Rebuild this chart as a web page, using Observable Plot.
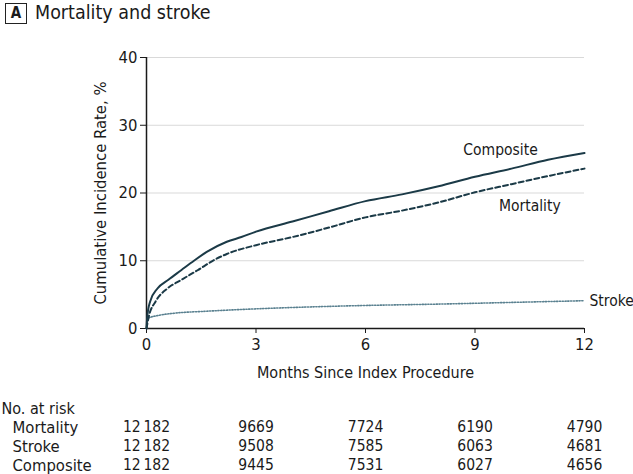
<!DOCTYPE html>
<html><head><meta charset="utf-8">
<script src="https://cdn.jsdelivr.net/npm/d3@7"></script>
<script src="https://cdn.jsdelivr.net/npm/@observablehq/plot@0.6"></script>
<style>
body{margin:0;background:#fff;font-family:"DejaVu Sans Condensed","Liberation Sans Narrow","DejaVu Sans",sans-serif;color:#1a1a1a;}
#title{height:30px;position:relative;}
#title .box{position:absolute;left:5px;top:3px;width:20px;height:19px;border:1.6px solid #222;font-size:15px;line-height:19px;text-align:center;font-weight:bold;}
#title .txt{position:absolute;left:35px;top:1px;font-size:19.5px;line-height:23px;}
svg{display:block;}
</style>
</head><body>
<div id="title"><div class="box">A</div><div class="txt">Mortality and stroke</div></div>
<div id="chart"></div>
<div id="risk"></div>
<script>
// ---- data ----
const compositeMonths = [0, 0.02, 0.1, 0.3, 0.6, 0.95, 1.3, 1.65, 2.2, 2.6, 3.0, 4.0, 5.0, 6.0, 7.0, 8.0, 9.0, 10.0, 11.0, 12.0];
const compositeRate   = [0, 1.7, 4.0, 5.9, 7.2, 8.6, 10.0, 11.3, 12.8, 13.5, 14.3, 15.8, 17.3, 18.8, 19.8, 21.0, 22.4, 23.6, 24.9, 25.9];
const mortalityMonths = [0, 0.06, 0.25, 0.57, 0.93, 1.4, 1.85, 2.2, 3.0, 4.0, 5.0, 6.0, 7.0, 8.0, 9.0, 10.0, 11.0, 12.0];
const mortalityRate   = [0, 1.7, 4.0, 5.9, 7.1, 8.6, 10.1, 11.0, 12.3, 13.5, 14.9, 16.4, 17.4, 18.6, 20.1, 21.3, 22.5, 23.6];
const strokeMonths = [0, 0.03, 0.3, 0.75, 1.65, 3, 4, 6, 8, 10, 12];
const strokeRate   = [0, 1.5, 1.9, 2.25, 2.55, 2.9, 3.1, 3.4, 3.6, 3.85, 4.1];

const xTicks = [0, 3, 6, 9, 12];
const yTicks = [0, 10, 20, 30, 40];
const xLabel = "Months Since Index Procedure";
const yLabel = "Cumulative Incidence Rate, %";

// curve annotation labels (month, rate)
const curveLabels = ["Composite", "Mortality", "Stroke"];
const curveLabelMonth = [9.7, 10.5, 12];
const curveLabelRate = [26.3, 18.1, 4.1];

// number at risk table
const riskTimes = [0, 3, 6, 9, 12];
const riskRows = ["Mortality", "Stroke", "Composite"];
const riskMortality = [12182, 9669, 7724, 6190, 4790];
const riskStroke    = [12182, 9508, 7585, 6063, 4681];
const riskComposite = [12182, 9445, 7531, 6027, 4656];

// ---- build tables ----
const toRows = (ms, rs) => ms.map((m, i) => ({month: m, rate: rs[i]}));
const composite = toRows(compositeMonths, compositeRate);
const mortality = toRows(mortalityMonths, mortalityRate);
const stroke = toRows(strokeMonths, strokeRate);
const labels = curveLabels.map((t, i) => ({text: t, month: curveLabelMonth[i], rate: curveLabelRate[i]}));

const FONT = '"DejaVu Sans Condensed","Liberation Sans Narrow","DejaVu Sans",sans-serif';
const INK = "#1b3a47";
const TXT = "#1a1a1a";

const chart = Plot.plot({
  width: 633, height: 370,
  marginTop: 27, marginBottom: 72, marginLeft: 146, marginRight: 49,
  style: {fontFamily: FONT, fontSize: "15px", color: TXT, background: "#fff"},
  x: {domain: [0, 12]},
  y: {domain: [0, 40]},
  marks: [
    Plot.gridY(yTicks.filter(d => d > 0), {stroke: "#d9d9d9", strokeOpacity: 1, strokeWidth: 1.2}),
    Plot.axisX({ticks: xTicks, tickSize: 5, tickPadding: 5, label: null, fontSize: 16.5}),
    Plot.axisY({ticks: yTicks, tickSize: 6, tickPadding: 3, label: null, fontSize: 16.5}),
    Plot.ruleX([0], {stroke: TXT, strokeWidth: 1.5}),
    Plot.ruleY([0], {stroke: TXT, strokeWidth: 1.5}),
    Plot.line(stroke, {x: "month", y: "rate", stroke: "#5a8190", strokeWidth: 1.6, strokeDasharray: "1.2,1.6", curve: "monotone-x"}),
    Plot.line(mortality, {x: "month", y: "rate", stroke: INK, strokeWidth: 2, strokeDasharray: "5,3", curve: "monotone-x"}),
    Plot.line(composite, {x: "month", y: "rate", stroke: INK, strokeWidth: 2, curve: "monotone-x"}),
    Plot.text(labels.filter(d => d.text !== "Stroke"), {x: "month", y: "rate", text: "text", fontSize: 15.5, fill: TXT}),
    Plot.text(labels.filter(d => d.text === "Stroke"), {x: "month", y: "rate", text: "text", fontSize: 15.5, fill: TXT, textAnchor: "start", dx: 5}),
    Plot.text([xLabel], {frameAnchor: "bottom", dy: 49, fontSize: 16, fill: TXT}),
    Plot.text([yLabel], {frameAnchor: "left", textAnchor: "middle", rotate: -90, dx: -46, fontSize: 16.5, fill: TXT})
  ]
});
document.getElementById("chart").append(chart);

// risk table
const fmt = n => n >= 10000 ? d3.format(",")(n).replace(",", "\u2009") : String(n);
const riskData = [];
const series = [riskMortality, riskStroke, riskComposite];
riskRows.forEach((r, j) => riskTimes.forEach((t, i) => riskData.push({row: r, month: t, n: series[j][i]})));
const rowDomain = ["No. at risk", ...riskRows];

const risk = Plot.plot({
  width: 633, height: 74,
  marginTop: 7, marginBottom: 8, marginLeft: 146, marginRight: 49,
  style: {fontFamily: FONT, fontSize: "15px", color: TXT, background: "#fff"},
  x: {domain: [0, 12], axis: null},
  y: {type: "point", domain: rowDomain, padding: 0, axis: null},
  marks: [
    Plot.text(riskData, {x: "month", y: "row", text: d => fmt(d.n), fontSize: 15.5, fill: TXT}),
    Plot.text(["No. at risk"], {y: d => d, frameAnchor: "left", dx: -145, textAnchor: "start", fontSize: 16, fill: TXT}),
    Plot.text(riskRows, {y: d => d, frameAnchor: "left", dx: -134, textAnchor: "start", fontSize: 16.5, fill: TXT})
  ]
});
document.getElementById("risk").append(risk);
</script>
</body></html>
